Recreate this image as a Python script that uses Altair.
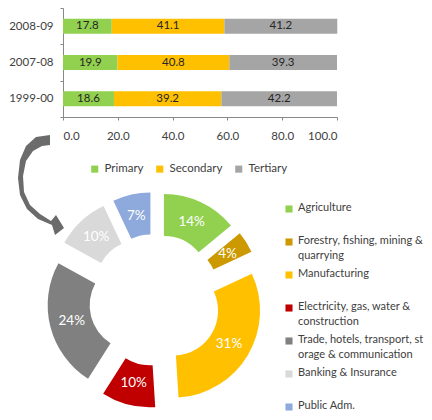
import altair as alt
import pandas as pd

# ---------------- data ----------------
years = ["2008-09", "2007-08", "1999-00"]
sectors = ["Primary", "Secondary", "Tertiary"]
share_2008 = [17.8, 41.1, 41.2]
share_2007 = [19.9, 40.8, 39.3]
share_1999 = [18.6, 39.2, 42.2]
sector_colors = ["#92D050", "#FFC000", "#A5A5A5"]
x_ticks = [0, 20, 40, 60, 80, 100]

donut_names = [
    "Agriculture",
    "Forestry, fishing, mining &\nquarrying",
    "Manufacturing",
    "Electricity, gas, water &\nconstruction",
    "Trade, hotels, transport, st\norage & communication",
    "Banking & Insurance",
    "Public Adm.",
]
donut_values = [14, 4, 31, 10, 24, 10, 7]
donut_colors = ["#92D050", "#CC9900", "#FFC000", "#C00000", "#808080", "#D9D9D9", "#8EA9DB"]

FONT = "Lato"

rows = []
for yr, vals in zip(years, [share_2008, share_2007, share_1999]):
    for i, (s, v) in enumerate(zip(sectors, vals)):
        rows.append({"year": yr, "sector": s, "value": v, "order": i})
bar_df = pd.DataFrame(rows)

donut_df = pd.DataFrame({
    "name": donut_names,
    "value": donut_values,
    "color": donut_colors,
    "order": list(range(len(donut_names))),
})

# ---------------- layout constants (pixels) ----------------
CX, CY = 92, 292      # donut centre
D = 21                # explode distance
R_OUT, R_IN = 87, 45
R_LAB = 65

# ---------------- bar chart ----------------
bar_base = alt.Chart(bar_df).transform_stack(
    stack="value", groupby=["year"], as_=["v0", "v1"], sort=[alt.SortField("order")]
).transform_calculate(mid="(datum.v0 + datum.v1) / 2")

xscale = alt.Scale(domain=[0, 100], range=[0, 274], nice=False, zero=True)
yscale = alt.Scale(range=[0, 109], paddingInner=0, paddingOuter=0)

bars = bar_base.mark_bar(size=15).encode(
    x=alt.X("v0:Q", scale=xscale,
            axis=alt.Axis(values=x_ticks, format=".1f", title=None, grid=False,
                          offset=109 - 404, tickSize=3, labelPadding=10,
                          labelFontSize=11.5, labelFont=FONT, labelColor="#404040",
                          domainColor="#888888", tickColor="#888888")),
    x2="v1:Q",
    y=alt.Y("year:N", sort=years, scale=yscale,
            axis=alt.Axis(title=None, tickBand="extent", tickSize=3, labelPadding=7,
                          labelFontSize=11.5, labelFont=FONT, labelColor="#404040",
                          domainColor="#888888", tickColor="#888888")),
    color=alt.Color("sector:N", sort=sectors,
                    scale=alt.Scale(domain=sectors, range=sector_colors),
                    legend=alt.Legend(orient="none", legendX=26, legendY=155,
                                      direction="horizontal", title=None,
                                      symbolType="square", symbolSize=50,
                                      symbolStrokeWidth=0, labelFontSize=11.5,
                                      labelFont=FONT, labelColor="#404040",
                                      columnPadding=10)),
    order=alt.Order("order:Q"),
)

bar_text = bar_base.mark_text(fontSize=11.5, font=FONT, color="#262626").encode(
    x=alt.X("mid:Q", scale=xscale),
    y=alt.Y("year:N", sort=years, scale=yscale),
    text=alt.Text("value:Q", format=".1f"),
)

# ---------------- donut ----------------
donut_base = alt.Chart(donut_df).transform_window(
    cum="sum(value)", sort=[alt.SortField("order")]
).transform_joinaggregate(total="sum(value)").transform_calculate(
    t1="datum.cum / datum.total * 2 * PI",
    t0="(datum.cum - datum.value) / datum.total * 2 * PI",
).transform_calculate(
    mid="(datum.t0 + datum.t1) / 2"
).transform_calculate(
    px=f"{CX} + {D} * sin(datum.mid)",
    py=f"{CY} - {D} * cos(datum.mid)",
    lx=f"{CX} + {D + R_LAB} * sin(datum.mid)",
    ly=f"{CY} - {D + R_LAB} * cos(datum.mid)",
    label="datum.value + '%'",
    gy="194 + datum.order * 33",
    sy="201 + datum.order * 33",
)

arcs = donut_base.mark_arc(radius=R_OUT, radius2=R_IN, stroke=None).encode(
    theta=alt.Theta("t0:Q", scale=None),
    theta2="t1:Q",
    x=alt.X("px:Q", scale=None, axis=None),
    y=alt.Y("py:Q", scale=None, axis=None),
    color=alt.Color("color:N", scale=None),
)

arc_labels = donut_base.mark_text(fontSize=13.5, font=FONT, color="white").encode(
    x=alt.X("lx:Q", scale=None, axis=None),
    y=alt.Y("ly:Q", scale=None, axis=None),
    text="label:N",
)

leg_sq = donut_base.mark_square(size=50, filled=True, opacity=1).encode(
    x=alt.value(226),
    y=alt.Y("sy:Q", scale=None, axis=None),
    color=alt.Color("color:N", scale=None),
)

leg_txt = donut_base.mark_text(align="left", baseline="top", lineBreak="\n",
                               lineHeight=15, fontSize=11, font=FONT,
                               color="#404040").encode(
    x=alt.value(235),
    y=alt.Y("gy:Q", scale=None, axis=None),
    text="name:N",
)

# curved arrow (decoration)
ARROW = ("M0.20,-1.00 L-0.08,-0.96 L-0.28,-0.78 L-0.40,-0.50 L-0.44,-0.14 "
         "L-0.40,0.20 L-0.26,0.48 L-0.04,0.68 L0.24,0.80 L0.30,1.00 L0.48,0.86 "
         "L0.32,0.60 L0.22,0.72 L0.00,0.58 L-0.20,0.40 L-0.32,0.14 L-0.34,-0.18 "
         "L-0.28,-0.48 L-0.14,-0.68 L0.04,-0.78 L0.20,-0.80 Z")
arrow = alt.Chart(pd.DataFrame({"a": [0]})).mark_point(
    shape=ARROW, size=10000, filled=True, color="#6b6b6b", opacity=1, strokeWidth=0
).encode(x=alt.value(-23), y=alt.value(177))

chart = alt.layer(bars, bar_text, arcs, arc_labels, leg_sq, leg_txt, arrow).properties(
    width=361, height=404,
    padding={"left": 55, "top": 0, "right": 0, "bottom": 0},
    autosize=alt.AutoSizeParams(type="none"),
    background="white",
).configure_view(stroke=None)

chart.save("out.html", embed_options={"renderer": "svg", "actions": False})
